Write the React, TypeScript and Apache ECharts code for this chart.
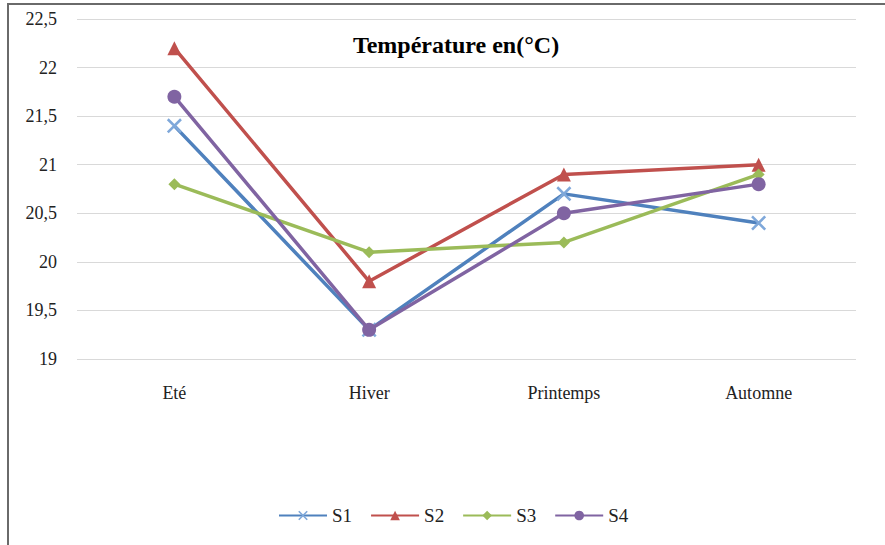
import React, { useEffect, useRef } from "react";
import * as echarts from "echarts";

const categories = ["Eté", "Hiver", "Printemps", "Automne"];
const s1 = [21.4, 19.3, 20.7, 20.4];
const s2 = [22.2, 19.8, 20.9, 21.0];
const s3 = [20.8, 20.1, 20.2, 20.9];
const s4 = [21.7, 19.3, 20.5, 20.8];
const seriesNames = ["S1", "S2", "S3", "S4"];
const colors = ["#4F81BD", "#C0504D", "#9BBB59", "#8064A2"];
const titleText = "Température en(°C)";

const FONT = "Liberation Serif";
const crossPath =
  "path://M0,1.2L1.2,0L10,8.8L8.8,10ZM8.8,0L10,1.2L1.2,10L0,8.8Z";

export default function App() {
  const ref = useRef<HTMLDivElement>(null);
  useEffect(() => {
    if (!ref.current) return;
    const chart = echarts.init(ref.current, undefined, { renderer: "svg" });
    const data = [s1, s2, s3, s4];
    const symbols = [crossPath, "triangle", "diamond", "circle"];
    const sizes = [15, 14, 12, 14];
    chart.setOption({
      animation: false,
      backgroundColor: "#fff",
      textStyle: { fontFamily: FONT },
      title: {
        text: titleText,
        left: 451,
        textAlign: "center",
        top: 28,
        textStyle: { fontFamily: FONT, fontWeight: "bold", fontSize: 24, color: "#000" },
      },
      legend: {
        bottom: 15,
        left: 273,
        itemWidth: 48,
        itemHeight: 12,
        itemGap: 18,
        data: seriesNames,
        textStyle: { fontFamily: FONT, fontSize: 19, color: "#222" },
      },
      grid: { left: 77, right: 29, top: 19, bottom: 186 },
      xAxis: {
        type: "category",
        data: categories,
        boundaryGap: true,
        axisLine: { show: false },
        axisTick: { show: false },
        axisLabel: { fontFamily: FONT, fontSize: 18, color: "#222", margin: 25 },
      },
      yAxis: {
        type: "value",
        min: 19,
        max: 22.5,
        interval: 0.5,
        axisLine: { show: false },
        axisTick: { show: false },
        splitLine: { lineStyle: { color: "#D9D9D9", width: 1 } },
        axisLabel: {
          fontFamily: FONT,
          fontSize: 18,
          color: "#222",
          margin: 20,
          formatter: (v: number) => String(v).replace(".", ","),
        },
      },
      graphic: [
        {
          type: "rect",
          shape: { x: 8, y: 4, width: 900, height: 600 },
          style: { fill: "none", stroke: "#6a6a6a", lineWidth: 2 },
          silent: true,
        },
      ],
      series: data.map((d, i) => ({
        name: seriesNames[i],
        type: "line",
        data: d,
        symbol: symbols[i],
        symbolSize: sizes[i],
        showAllSymbol: true,
        lineStyle: { color: colors[i], width: 3.5 },
        itemStyle: { color: i === 0 ? "#7FA8DA" : colors[i] },
        z: 2 + i,
      })),
    });
    return () => chart.dispose();
  }, []);
  return (
    <div
      ref={ref}
      style={{ position: "absolute", left: 0, top: 0, width: 885, height: 545 }}
    />
  );
}
